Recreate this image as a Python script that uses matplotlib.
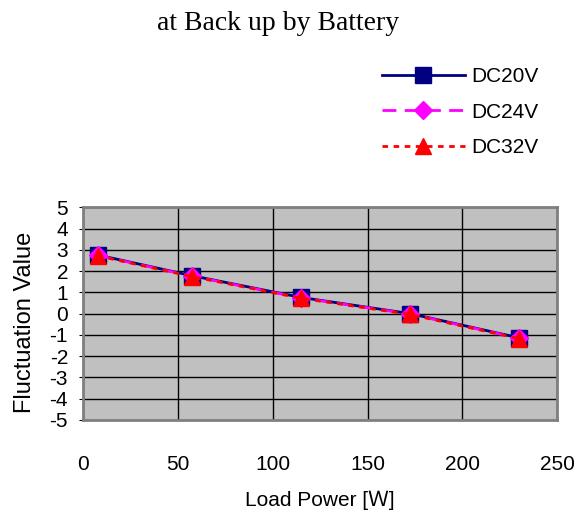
import matplotlib
matplotlib.use("Agg")
import matplotlib.pyplot as plt

# Data
load_power = [7.5, 57.5, 115, 172.5, 230]
dc20v = [2.76, 1.78, 0.76, 0.0, -1.14]
dc24v = [2.74, 1.76, 0.74, -0.02, -1.16]
dc32v = [2.72, 1.74, 0.72, -0.04, -1.18]
series_labels = ["DC20V", "DC24V", "DC32V"]
x_ticks = [0, 50, 100, 150, 200, 250]
y_ticks = list(range(-5, 6))

plt.rcParams["font.family"] = ["Liberation Sans", "Noto Sans CJK JP"]
plt.rcParams["axes.unicode_minus"] = False

fig = plt.figure(figsize = (5.79, 5.18), dpi = 100)
ax = fig.add_axes([0.1439, 0.1892, 0.8186, 0.4106])
ax.set_facecolor("#C0C0C0")

ax.plot(load_power, dc20v, color = "#000080", lw = 2, ls = "-",
        marker = "s", ms = 11, mfc = "#000080", mec = "#000080", label = series_labels[0])
ax.plot(load_power, dc24v, color = "#FF00FF", lw = 2, ls = (0, (5, 3)),
        marker = "D", ms = 9, mfc = "#FF00FF", mec = "#FF00FF", label = series_labels[1])
ax.plot(load_power, dc32v, color = "#FF0000", lw = 2, ls = (0, (2, 2)),
        marker = "^", ms = 12, mfc = "#FF0000", mec = "#FF0000", label = series_labels[2])

ax.set_xlim(0, 250)
ax.set_ylim(-5, 5)
ax.set_xticks(x_ticks)
ax.set_yticks(y_ticks)
ax.grid(True, color = "black", lw = 1)
ax.set_axisbelow(True)
ax.tick_params(axis = "x", length = 0, pad = 25, labelsize = 15)
ax.tick_params(axis = "y", length = 3, pad = 8, labelsize = 15)
for s in ax.spines.values():
    s.set_color("#808080")
    s.set_linewidth(2)

ax.set_xlabel("Load Power [Ｗ]", fontsize = 15, labelpad = 12)
ax.set_ylabel("Fluctuation Value", fontsize = 17)
ax.yaxis.set_label_coords(-0.1, 0.46)

fig.text(0.48, 0.955, "at Back up by Battery", ha = "center", va = "center",
         fontsize = 20, family = "Liberation Serif")

fig.legend(loc = "upper left", bbox_to_anchor = (0.627, 0.906), frameon = False,
           fontsize = 15, handlelength = 4.0, labelspacing = 0.78, handletextpad = 0.3)

fig.savefig("out.png", dpi = 100)
